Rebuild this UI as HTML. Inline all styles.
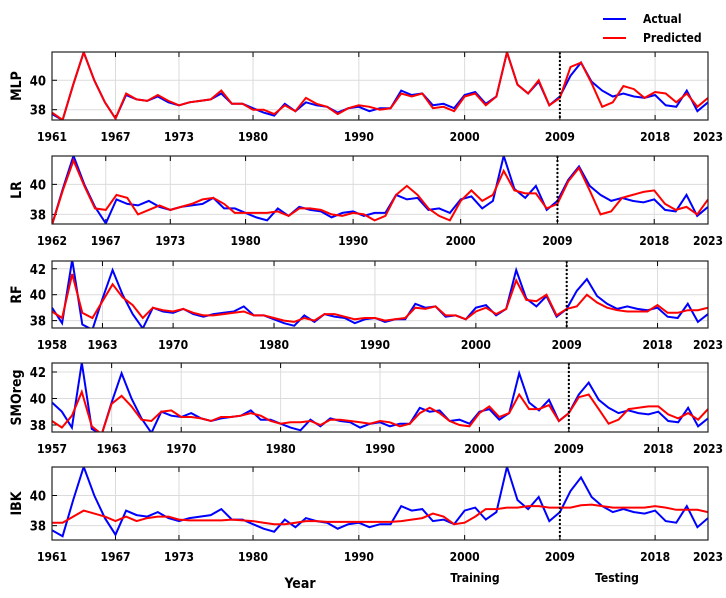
<!DOCTYPE html>
<html><head><meta charset="utf-8"><style>
body{margin:0;background:#fff;}
svg{display:block;font-family:"DejaVu Sans Condensed","Liberation Sans Narrow","Liberation Sans",sans-serif;}
text{font-weight:bold;}
</style></head><body>
<svg id="chart" width="726" height="598" viewBox="0 0 726 598" xmlns="http://www.w3.org/2000/svg">
  <g>
    <line x1="603" y1="19" x2="626" y2="19" stroke="#0000ff" stroke-width="2"/>
    <text x="643" y="23" font-size="12">Actual</text>
    <line x1="603" y1="38" x2="626" y2="38" stroke="#ff0000" stroke-width="2"/>
    <text x="643" y="42" font-size="12">Predicted</text>
  </g>
  <text x="300" y="588" font-size="14" text-anchor="middle">Year</text>
  <text x="475" y="582" font-size="12" text-anchor="middle">Training</text>
  <text x="617" y="582" font-size="12" text-anchor="middle">Testing</text>
</svg>
<script>
const actualStart = 1957;
const actualValues = [39.7,39.0,37.8,42.7,37.7,37.3,39.7,41.9,40.0,38.5,37.4,39.0,38.7,38.6,38.9,38.5,38.3,38.5,38.6,38.7,39.1,38.4,38.4,38.1,37.8,37.6,38.4,37.9,38.5,38.3,38.2,37.8,38.1,38.2,37.9,38.1,38.1,39.3,39.0,39.1,38.3,38.4,38.1,39.0,39.2,38.4,38.9,41.9,39.7,39.1,39.9,38.3,38.9,40.3,41.2,39.9,39.3,38.9,39.1,38.9,38.8,39.0,38.3,38.2,39.3,37.9,38.5];
const mlpPred = [37.8,37.3,39.7,41.9,40.0,38.5,37.4,39.1,38.7,38.6,39.0,38.6,38.3,38.5,38.6,38.7,39.3,38.4,38.4,38.0,38.0,37.7,38.3,37.9,38.8,38.4,38.2,37.7,38.1,38.3,38.2,38.0,38.1,39.1,38.9,39.1,38.1,38.2,37.9,38.9,39.1,38.3,38.9,41.9,39.7,39.1,40.0,38.3,38.8,40.9,41.2,39.8,38.2,38.5,39.6,39.4,38.8,39.2,39.1,38.5,39.1,38.2,38.8];
const lrPred = [37.3,39.6,41.6,39.9,38.4,38.3,39.3,39.1,38.0,38.3,38.6,38.3,38.5,38.7,39.0,39.1,38.7,38.1,38.1,38.1,38.1,38.2,37.9,38.4,38.4,38.3,38.0,37.9,38.1,38.0,37.6,37.9,39.3,39.9,39.3,38.4,37.9,37.6,38.9,39.6,38.9,39.3,40.9,39.6,39.4,39.4,38.4,38.7,40.2,41.1,39.6,38.0,38.2,39.1,39.3,39.5,39.6,38.7,38.3,38.5,38.0,39.0];
const rfPred = [38.7,38.2,41.6,38.6,38.2,39.5,40.8,39.8,39.2,38.2,39.0,38.8,38.7,38.9,38.6,38.4,38.4,38.5,38.6,38.7,38.4,38.4,38.2,38.0,37.9,38.2,38.0,38.5,38.5,38.3,38.1,38.2,38.2,38.0,38.1,38.2,39.0,38.9,39.1,38.4,38.4,38.1,38.7,39.0,38.5,38.9,41.1,39.6,39.5,40.0,38.4,38.9,39.1,40.0,39.4,39.0,38.8,38.7,38.7,38.7,39.2,38.6,38.6,38.8,38.8,39.0];
const smoPred = [38.3,37.8,38.7,40.5,37.9,37.3,39.6,40.2,39.4,38.4,38.3,39.0,39.1,38.6,38.6,38.5,38.3,38.6,38.6,38.7,38.9,38.7,38.3,38.1,38.2,38.2,38.3,38.0,38.4,38.4,38.3,38.2,38.1,38.3,38.2,37.9,38.1,38.9,39.3,38.9,38.3,38.0,37.9,38.9,39.4,38.6,38.9,40.3,39.2,39.2,39.5,38.3,38.9,40.1,40.3,39.2,38.1,38.4,39.2,39.3,39.4,39.4,38.8,38.5,38.9,38.4,39.2];
const ibkPred = [38.2,38.2,38.6,39.0,38.8,38.6,38.3,38.6,38.3,38.5,38.6,38.6,38.4,38.35,38.35,38.35,38.35,38.4,38.35,38.3,38.2,38.1,38.1,38.2,38.3,38.3,38.25,38.25,38.25,38.25,38.25,38.25,38.25,38.3,38.4,38.5,38.8,38.6,38.1,38.2,38.6,39.1,39.1,39.2,39.2,39.3,39.3,39.2,39.2,39.2,39.35,39.4,39.3,39.2,39.2,39.2,39.2,39.3,39.2,39.05,39.05,39.05,38.9];
const panelNames = ["MLP","LR","RF","SMOreg","IBK"];
const panelStarts = [1961,1962,1958,1957,1961];
const panelTicks = [
  [1961,1967,1973,1980,1990,2000,2009,2018,2023],
  [1962,1967,1973,1980,1990,2000,2009,2018,2023],
  [1958,1963,1970,1980,1990,2000,2009,2018,2023],
  [1957,1963,1970,1980,1990,2000,2009,2018,2023],
  [1961,1967,1973,1980,1990,2000,2009,2018,2023]];
const panelYTicks = [[38,40],[38,40],[38,40,42],[38,40,42],[38,40]];
const panelYMin = [37.3,37.36,37.43,37.47,37.05];
const panelYMax = [41.92,41.89,42.6,42.68,41.89];
const preds = [mlpPred,lrPred,rfPred,smoPred,ibkPred];
const endYear = 2023, splitYear = 2009;

const layout = [{t:52,b:120},{t:156,b:224},{t:261,b:328},{t:363,b:432},{t:467,b:540}];
const L = 52, R = 708;
const NS = "http://www.w3.org/2000/svg";
const svg = document.getElementById('chart');
function mk(tag, attrs, parent){const e=document.createElementNS(NS,tag);for(const k in attrs)e.setAttribute(k,attrs[k]);(parent||svg).appendChild(e);return e;}

panelNames.forEach((name,i)=>{
  const {t,b} = layout[i];
  const start = panelStarts[i];
  const xs = y => L + (y-start)/(endYear-start)*(R-L);
  const ys = v => b - (v-panelYMin[i])/(panelYMax[i]-panelYMin[i])*(b-t);
  const g = mk('g',{});
  
  
  const clipId='clip'+i;
  const cp = mk('clipPath',{id:clipId},g); mk('rect',{x:L,y:t,width:R-L,height:b-t},cp);
  panelTicks[i].forEach(yr=>{
    const x=xs(yr);
    mk('line',{x1:x,y1:t,x2:x,y2:b,stroke:'#dcdcdc','stroke-width':1},g);
    mk('line',{x1:x,y1:b,x2:x,y2:b-5,stroke:'#000','stroke-width':1},g);
    mk('line',{x1:x,y1:t,x2:x,y2:t+5,stroke:'#000','stroke-width':1},g);
    const tx = mk('text',{x:x,y:b+21,'font-size':12,'text-anchor':'middle'},g);
    tx.textContent = yr;
    
    
  });
  panelYTicks[i].forEach(v=>{
    const y=ys(v);
    mk('line',{x1:L,y1:y,x2:R,y2:y,stroke:'#dcdcdc','stroke-width':1},g);
    mk('line',{x1:L,y1:y,x2:L+5,y2:y,stroke:'#000','stroke-width':1},g);
    const tx = mk('text',{x:46,y:y+5,'font-size':13,'text-anchor':'end'},g);
    tx.textContent = v;
    
    
  });
  let pa='';
  actualValues.forEach((v,k)=>{const yr=actualStart+k; if(yr<start) return; pa+=(pa?'L':'M')+xs(yr).toFixed(1)+','+ys(v).toFixed(1);});
  const la = mk('path',{d:pa,fill:'none',stroke:'#0000ff','stroke-width':2,'clip-path':'url(#'+clipId+')'},g);
  
  
  let pp='';
  preds[i].forEach((v,k)=>{pp+=(pp?'L':'M')+xs(start+k).toFixed(1)+','+ys(v).toFixed(1);});
  const lp = mk('path',{d:pp,fill:'none',stroke:'#ff0000','stroke-width':2,'clip-path':'url(#'+clipId+')'},g);
  
  
  const sx = xs(splitYear);
  const sl = mk('line',{x1:sx,y1:t,x2:sx,y2:b,stroke:'#000','stroke-width':2,'stroke-dasharray':'2,2'},g);
  
  
  mk('rect',{x:L,y:t,width:R-L,height:b-t,fill:'none',stroke:'#222','stroke-width':1.2},g);
  const yl = mk('text',{x:0,y:0,'font-size':14,'text-anchor':'middle',transform:'translate(21,'+((t+b)/2)+') rotate(-90)'},g);
  yl.textContent = name;
  
  
});
</script>
</body></html>
